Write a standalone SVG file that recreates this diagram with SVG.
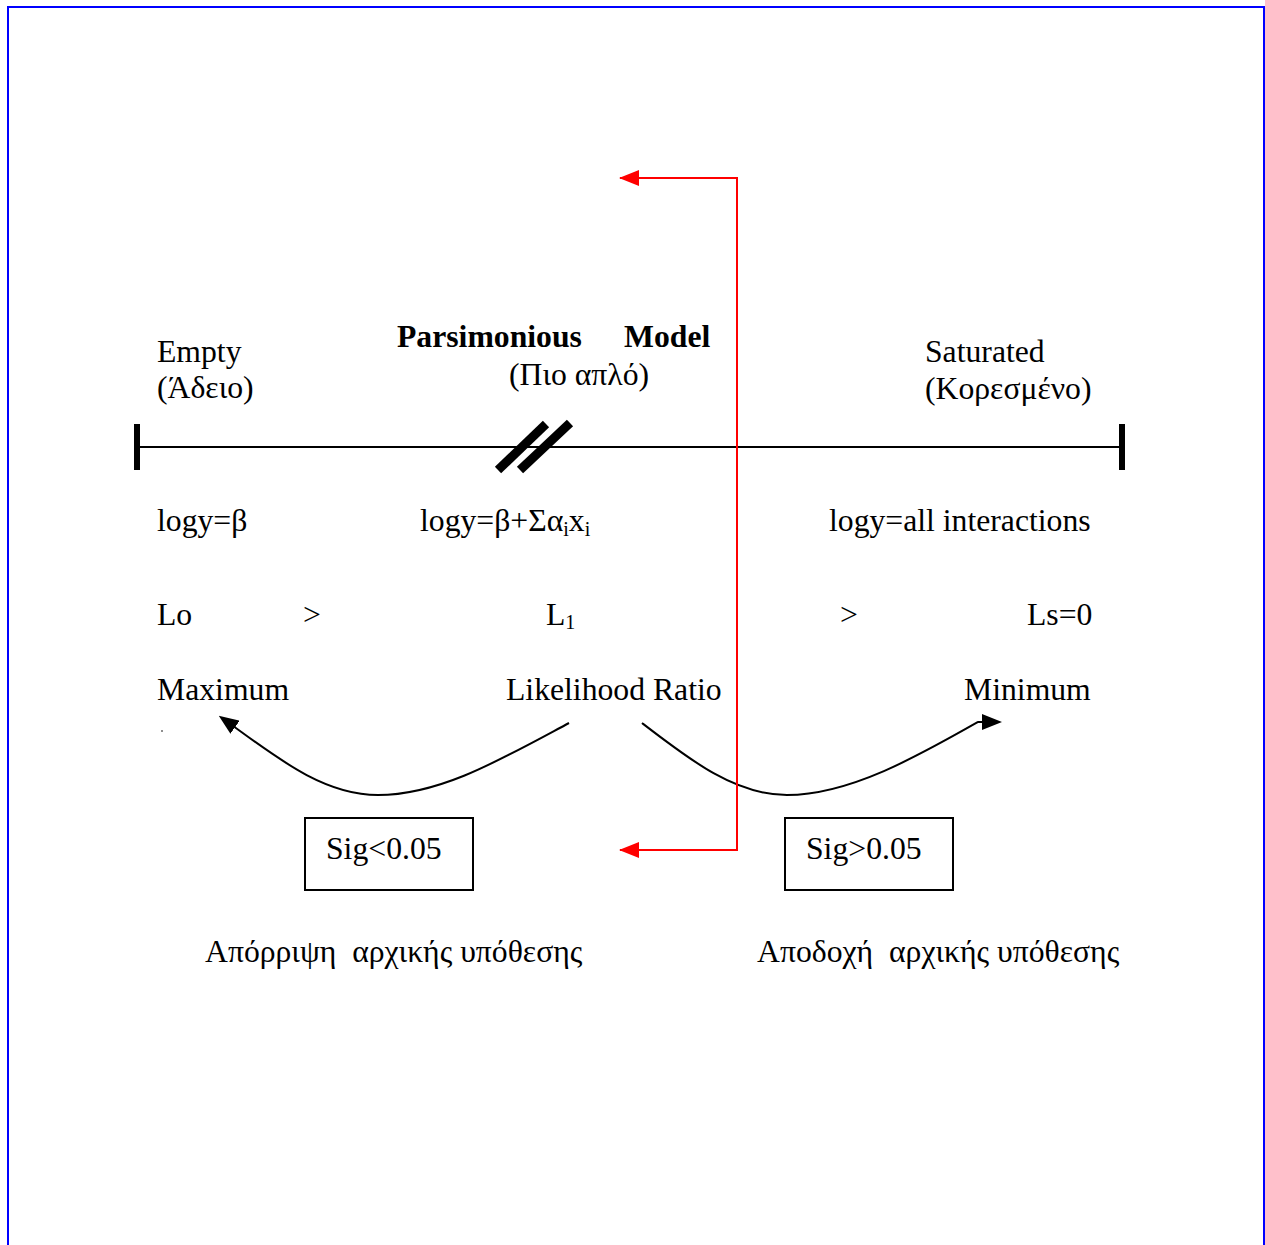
<svg xmlns="http://www.w3.org/2000/svg" width="1265" height="1245" viewBox="0 0 1265 1245">
<style>
text{font-family:"Liberation Serif","Times New Roman",serif;font-size:31.7px;fill:#000;white-space:pre}
.b{font-weight:bold}
.sub{font-size:20px}
.blk{fill:none;stroke:#000;stroke-width:2}
.red{fill:none;stroke:#f00;stroke-width:2}
.box{fill:#fff;stroke:#000;stroke-width:2}
</style>
<defs>
<marker id="ak" markerWidth="20" markerHeight="16" refX="16" refY="8" orient="auto" markerUnits="userSpaceOnUse" viewBox="0 0 20 16">
<path d="M0,0 L20,8 L0,16 z" fill="#000"/>
</marker>
<marker id="ar" markerWidth="20" markerHeight="16" refX="19" refY="8" orient="auto" markerUnits="userSpaceOnUse" viewBox="0 0 20 16">
<path d="M0,0 L20,8 L0,16 z" fill="#f00"/>
</marker>
</defs>
<rect width="1265" height="1245" fill="#fff"/>
<rect x="8" y="7" width="1256" height="1250" fill="none" stroke="#00f" stroke-width="2"/>

<g id="axis">
<line x1="137" y1="447" x2="1122" y2="447" stroke="#000" stroke-width="2"/>
<rect x="134" y="424" width="6" height="46" fill="#000"/>
<rect x="1119" y="424" width="6" height="46" fill="#000"/>
<line x1="498" y1="470" x2="546" y2="424" stroke="#000" stroke-width="9"/>
<line x1="520" y1="470" x2="570" y2="423" stroke="#000" stroke-width="9"/>
</g>

<g id="empty">
<text x="157" y="362">Empty</text>
<text x="157" y="398">(Άδειο)</text>
<text x="157" y="531">logy=β</text>
<text x="157" y="625">Lo</text>
<text x="157" y="700">Maximum</text>
<circle cx="162" cy="731" r="0.8" fill="#000"/>
</g>

<g id="parsimonious">
<text x="397" y="347" class="b">Parsimonious</text>
<text x="624" y="347" class="b">Model</text>
<text x="509" y="385">(Πιο απλό)</text>
<text x="420" y="531">logy=β+Σα<tspan class="sub" dy="5">i</tspan><tspan dy="-5">x</tspan><tspan class="sub" dy="5">i</tspan></text>
<text x="546" y="625">L<tspan class="sub" dy="4">1</tspan></text>
<text x="506" y="700">Likelihood Ratio</text>
</g>

<g id="saturated">
<text x="925" y="362">Saturated</text>
<text x="925" y="399">(Κορεσμένο)</text>
<text x="829" y="531">logy=all interactions</text>
<text x="1027" y="625">Ls=0</text>
<text x="964" y="700">Minimum</text>
</g>

<g id="gt">
<text x="303" y="625">&gt;</text>
<text x="840" y="625">&gt;</text>
</g>

<g id="sig-low">
<rect x="305" y="818" width="168" height="72" class="box"/>
<text x="326" y="859">Sig&lt;0.05</text>
<text x="205" y="962" xml:space="preserve">Απόρριψη  αρχικής υπόθεσης</text>
</g>

<g id="sig-high">
<rect x="785" y="818" width="168" height="72" class="box"/>
<text x="806" y="859">Sig&gt;0.05</text>
<text x="757" y="962" xml:space="preserve">Αποδοχή  αρχικής υπόθεσης</text>
</g>

<g id="connectors">
<path class="blk" d="M569,723 C500,760 440,795 378,795 C320,795 270,752 222,718" marker-end="url(#ak)"/>
<path class="blk" d="M642,723 C690,760 735,795 787,795 C850,795 920,755 978,722 L998,722" marker-end="url(#ak)"/>
<path class="red" d="M737,850 L737,178 L620,178" marker-end="url(#ar)"/>
<path class="red" d="M737,500 L737,850 L620,850" marker-end="url(#ar)"/>
</g>
</svg>
